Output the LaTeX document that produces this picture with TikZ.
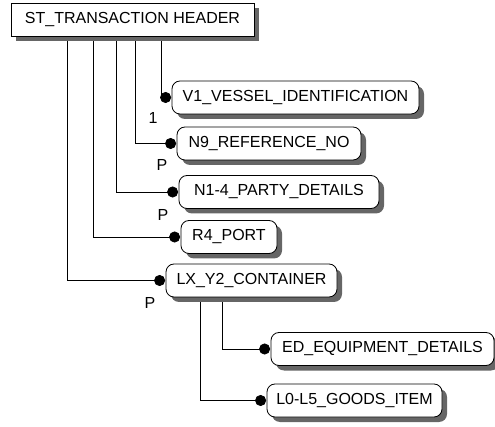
\documentclass[tikz,border=0pt]{standalone}
\usepackage{fontspec}
\setmainfont{Liberation Sans}
\usetikzlibrary{arrows.meta, shadows}
\tikzstyle{header} = [rectangle, minimum height=33pt, text centered, draw=black, fill=white, line width=0.8pt, drop shadow={shadow xshift=5pt, shadow yshift=-5pt, fill=black!60, opacity=1}]
\tikzstyle{entity} = [rectangle, rounded corners=8pt, minimum height=33pt, text centered, draw=black, fill=white, line width=0.8pt, drop shadow={shadow xshift=5pt, shadow yshift=-5pt, fill=black!60, opacity=1}]
\tikzstyle{link} = [line width=0.8pt, -{Circle[length=11pt]}, shorten >=0.5pt]
\tikzstyle{card} = [inner sep=0pt]

\begin{document}
\begin{tikzpicture}[x=1pt, y=-1pt, font=\fontsize{16}{19}\selectfont]
    \useasboundingbox (0,0) rectangle (495,427);
    \node (st) [header, minimum width=243pt] at (132.5,19.5) {ST\_TRANSACTION HEADER};
    \node (v1) [entity, minimum width=247pt] at (295.5,97.5) {V1\_VESSEL\_IDENTIFICATION};
    \node (n9) [entity, minimum width=184pt] at (269,143.5) {N9\_REFERENCE\_NO};
    \node (n14) [entity, minimum width=200pt] at (279,192) {N1-4\_PARTY\_DETAILS};
    \node (r4) [entity, minimum width=96pt] at (229,237) {R4\_PORT};
    \node (lx) [entity, minimum width=171pt] at (251.5,280.5) {LX\_Y2\_CONTAINER};
    \node (ed) [entity, minimum width=223pt] at (382.5,349) {ED\_EQUIPMENT\_DETAILS};
    \node (l0) [entity, minimum width=175pt] at (354.5,400.5) {L0-L5\_GOODS\_ITEM};

    \node (cv1) [card] at (153,118) {1};
    \node (cn9) [card] at (162,165) {P};
    \node (cn14) [card] at (163,215) {P};
    \node (clx) [card] at (150,303) {P};

    \draw [link] ([xshift=151pt, yshift=-5pt]st.south west) |- (v1.west);
    \draw [link] ([xshift=125pt, yshift=-5pt]st.south west) |- (n9.west);
    \draw [link] ([xshift=106pt, yshift=-5pt]st.south west) |- (n14.west);
    \draw [link] ([xshift=83pt, yshift=-5pt]st.south west) |- (r4.west);
    \draw [link] ([xshift=57pt, yshift=-5pt]st.south west) |- (lx.west);
    \draw [link] ([xshift=57pt, yshift=-5pt]lx.south west) |- (ed.west);
    \draw [link] ([xshift=35pt, yshift=-5pt]lx.south west) |- (l0.west);
  \end{tikzpicture}
\end{document}
